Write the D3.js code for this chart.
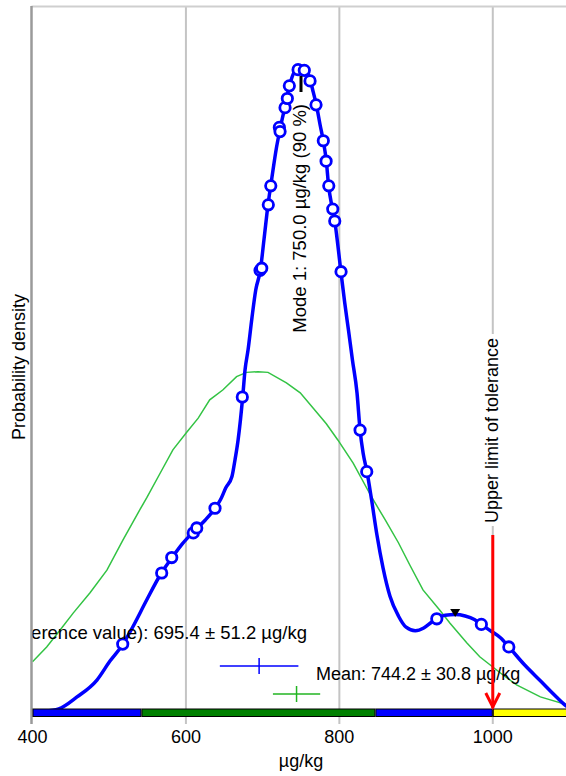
<!DOCTYPE html>
<meta charset="utf-8">
<style>
body { margin: 0; background: #fff; }
text { font-family: Arial, "Liberation Sans", sans-serif; font-size: 18px; fill: #000; }
.grid { stroke: #c4c4c4; stroke-width: 2px; }
</style>
<body>
<script src="https://d3js.org/d3.v7.min.js"></script>
<script>

// x axis ticks
var tickValues = [400, 600, 800, 1000];

// kernel density (blue)
var kdeX = [416, 434, 458, 484, 501, 518, 531, 549, 568, 582, 595, 612, 625, 638, 645, 652, 660, 664, 668, 674, 677, 681, 686, 691, 697, 702, 707, 712, 718, 723, 729, 735, 740, 745, 750, 755, 762, 766, 770, 775, 779, 783, 786, 791, 794, 798, 802, 807, 812, 817, 823, 827, 831, 836, 842, 849, 857, 866, 877, 887, 899, 910, 920, 927, 938, 951, 964, 976, 985, 997, 1010, 1021, 1041, 1062, 1083, 1096, 1100];
var kdeY = [0, 0.003, 0.020, 0.044, 0.071, 0.095, 0.120, 0.158, 0.196, 0.218, 0.237, 0.257, 0.271, 0.288, 0.300, 0.317, 0.333, 0.357, 0.385, 0.446, 0.484, 0.513, 0.558, 0.598, 0.626, 0.672, 0.719, 0.757, 0.800, 0.828, 0.858, 0.888, 0.905, 0.913, 0.916, 0.913, 0.896, 0.879, 0.861, 0.832, 0.810, 0.781, 0.746, 0.713, 0.696, 0.662, 0.624, 0.580, 0.540, 0.499, 0.452, 0.399, 0.366, 0.340, 0.300, 0.250, 0.203, 0.163, 0.135, 0.119, 0.114, 0.118, 0.126, 0.131, 0.136, 0.137, 0.135, 0.130, 0.123, 0.114, 0.104, 0.091, 0.066, 0.043, 0.020, 0.007, 0.004];

// single results (circles)
var pointX = [517.6, 568.4, 581.5, 609.6, 614.1, 637.9, 673.5, 696.6, 698.8, 707.4, 710.6, 721.8, 722.7, 729.2, 732.2, 734.8, 746.2, 754.3, 761.8, 769.6, 779.1, 782.7, 786.2, 791.4, 794.0, 802.2, 827.0, 835.7, 927.0, 985.1, 1020.9];
var pointY = [0.095, 0.196, 0.218, 0.253, 0.260, 0.288, 0.446, 0.626, 0.629, 0.719, 0.746, 0.829, 0.823, 0.857, 0.870, 0.888, 0.911, 0.910, 0.895, 0.861, 0.810, 0.781, 0.746, 0.713, 0.696, 0.624, 0.399, 0.340, 0.131, 0.123, 0.091];

// normal density (green)
var normX = [400, 418.5, 436, 453, 475, 497, 518, 540, 549, 566, 583, 601, 616, 631, 648, 666, 679, 694, 707, 731, 749, 766, 783, 798, 818, 842, 860, 877, 892, 909, 931, 944, 966, 983, 1010, 1031, 1062, 1096, 1100];
var normY = [0.070, 0.091, 0.115, 0.139, 0.168, 0.200, 0.243, 0.286, 0.303, 0.337, 0.371, 0.396, 0.416, 0.442, 0.456, 0.475, 0.481, 0.482, 0.481, 0.466, 0.452, 0.430, 0.408, 0.385, 0.352, 0.304, 0.271, 0.239, 0.207, 0.172, 0.143, 0.125, 0.097, 0.077, 0.054, 0.037, 0.020, 0.009, 0.007];

// zone bar along the axis
var zoneFrom = [400, 542, 847, 1000];
var zoneTo = [542, 847, 1000, 1100];
var zoneColor = ["#0000ff", "#008000", "#0000ff", "#ffff00"];

var assigned = 695.4, assignedU = 51.2;
var meanVal = 744.2, meanU = 30.8;
var mode1 = 750.0, mode2 = 951;
var upperLimit = 1000;

var width = 566, height = 776;
var plotLeft = 32.5, plotRight = 569.5, plotTop = 7, plotBase = 711;

var x = d3.scaleLinear().domain([400, 1100]).range([plotLeft, plotRight]);
var y = d3.scaleLinear().domain([0, 1]).range([plotBase, plotTop]);

var svg = d3.select("body").append("svg")
    .attr("width", width)
    .attr("height", height);

svg.append("defs").append("clipPath").attr("id", "plotclip")
  .append("rect")
    .attr("x", plotLeft).attr("y", plotTop)
    .attr("width", plotRight - plotLeft).attr("height", 717 - plotTop);

// grid lines (they also make the ticks under the bar)
svg.selectAll(".grid")
    .data(tickValues.slice(1))
  .enter().append("line")
    .attr("class", "grid")
    .attr("x1", d => x(d)).attr("x2", d => x(d))
    .attr("y1", plotTop).attr("y2", 724);

// frame: top and left
svg.append("line").attr("x1", plotLeft - 1).attr("x2", width).attr("y1", 6.5).attr("y2", 6.5)
    .style("stroke", "#cfcfcf").style("stroke-width", 2);
svg.append("line").attr("x1", 31.5).attr("x2", 31.5).attr("y1", 6).attr("y2", 724)
    .style("stroke", "#9a9a9a").style("stroke-width", 2.5);

var plot = svg.append("g").attr("clip-path", "url(#plotclip)");

// white box behind the tolerance label
plot.append("rect")
    .attr("x", x(upperLimit) - 9).attr("y", 334)
    .attr("width", 19).attr("height", 192)
    .style("fill", "#fff");

var normLine = d3.line()
    .x((d, i) => x(normX[i]))
    .y((d, i) => y(normY[i]));

plot.append("path")
    .datum(normX)
    .attr("d", normLine)
    .style("fill", "none")
    .style("stroke", "#33c344")
    .style("stroke-width", 1.5);

var kdeLine = d3.line()
    .curve(d3.curveMonotoneX)
    .x((d, i) => x(kdeX[i]))
    .y((d, i) => y(kdeY[i]));

plot.append("path")
    .datum(kdeX)
    .attr("d", kdeLine)
    .style("fill", "none")
    .style("stroke", "#0000ff")
    .style("stroke-width", 3.5)
    .style("stroke-linejoin", "round");

plot.selectAll(".dot")
    .data(pointX)
  .enter().append("circle")
    .attr("class", "dot")
    .attr("cx", d => x(d))
    .attr("cy", (d, i) => y(pointY[i]))
    .attr("r", 5.2)
    .style("fill", "#fff")
    .style("stroke", "#0000ff")
    .style("stroke-width", 2.8);

// mode markers
plot.append("line")
    .attr("x1", x(mode1)).attr("x2", x(mode1))
    .attr("y1", 76).attr("y2", 92)
    .style("stroke", "#000").style("stroke-width", 3);

plot.append("path")
    .attr("d", "M" + (x(mode2) - 5) + ",609L" + (x(mode2) + 5) + ",609L" + x(mode2) + ",617Z")
    .style("fill", "#000");

plot.append("text")
    .attr("text-anchor", "end")
    .style("font-size", "18.5px")
    .attr("transform", "translate(" + (x(mode1) + 5) + ",104)rotate(-90)")
    .text("Mode 1: " + mode1.toFixed(1) + " µg/kg (90 %)");

// tolerance label
plot.append("text")
    .attr("transform", "translate(" + (x(upperLimit) + 5.5) + ",523)rotate(-90)")
    .text("Upper limit of tolerance");

// assigned value and mean with their uncertainty
plot.append("text")
    .attr("x", 307).attr("y", 639)
    .attr("text-anchor", "end")
    .style("font-size", "18.5px")
    .text("Assigned value (reference value): " + assigned.toFixed(1) + " ± " + assignedU.toFixed(1) + " µg/kg");

plot.append("text")
    .attr("x", 316).attr("y", 680)
    .text("Mean: " + meanVal.toFixed(1) + " ± " + meanU.toFixed(1) + " µg/kg");

var bars = [
  {v: assigned, u: assignedU, yy: 666, color: "#0000ff"},
  {v: meanVal, u: meanU, yy: 694, color: "#22b422"}
];
bars.forEach(function(b) {
  plot.append("line")
      .attr("x1", x(b.v - b.u)).attr("x2", x(b.v + b.u))
      .attr("y1", b.yy).attr("y2", b.yy)
      .style("stroke", b.color).style("stroke-width", 1.5);
  plot.append("line")
      .attr("x1", x(b.v)).attr("x2", x(b.v))
      .attr("y1", b.yy - 8).attr("y2", b.yy + 8)
      .style("stroke", b.color).style("stroke-width", 1.5);
});

// zone bar
svg.selectAll(".zone")
    .data(zoneFrom)
  .enter().append("rect")
    .attr("class", "zone")
    .attr("x", d => x(d) + 0.5)
    .attr("y", 709)
    .attr("width", (d, i) => Math.min(x(zoneTo[i]), width + 2) - x(d) - 1)
    .attr("height", 7.5)
    .style("fill", (d, i) => zoneColor[i])
    .style("stroke", "#000")
    .style("stroke-width", 1);

// red arrow at the upper limit
svg.append("line")
    .attr("x1", x(upperLimit)).attr("x2", x(upperLimit))
    .attr("y1", 535).attr("y2", 708)
    .style("stroke", "#ff0000").style("stroke-width", 3);
svg.append("path")
    .attr("d", "M" + (x(upperLimit) - 7) + ",693L" + x(upperLimit) + ",707L" + (x(upperLimit) + 7) + ",693")
    .style("fill", "none")
    .style("stroke", "#ff0000").style("stroke-width", 3);

// axis labels
svg.selectAll(".tick-label")
    .data(tickValues)
  .enter().append("text")
    .attr("class", "tick-label")
    .attr("x", d => x(d))
    .attr("y", 743)
    .attr("text-anchor", "middle")
    .text(d => d);

svg.append("text")
    .attr("x", (plotLeft + plotRight) / 2).attr("y", 767)
    .attr("text-anchor", "middle")
    .text("µg/kg");

svg.append("text")
    .attr("text-anchor", "middle")
    .attr("transform", "translate(25,367)rotate(-90)")
    .text("Probability density");

</script>
</body>
